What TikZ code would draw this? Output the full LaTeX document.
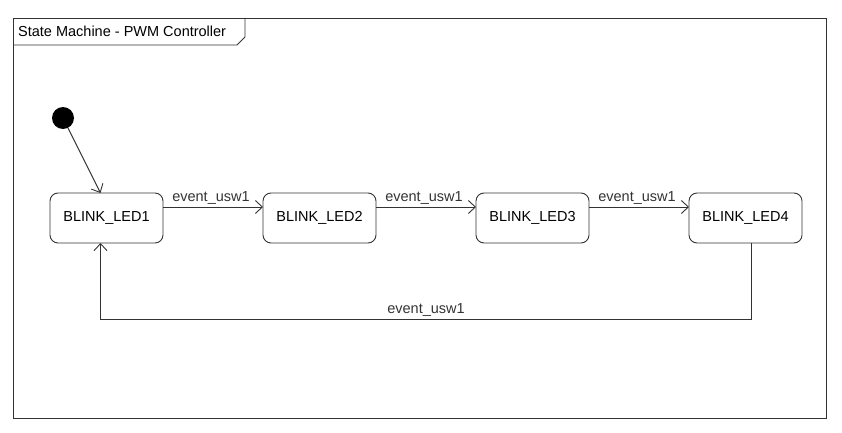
\documentclass[tikz,border=0pt]{standalone}
\usepackage{fontspec}
\setmainfont{Liberation Sans}
\usepackage{xcolor}
\usepackage{tikz}
\usetikzlibrary{arrows.meta, positioning, calc}
\definecolor{linegray}{RGB}{51,51,51}
\tikzset{
    state/.style={rectangle, rounded corners=8pt, minimum width=113pt, minimum height=50pt,
                  text centered, draw=linegray, fill=white, outer sep=0pt, line width=0.9pt,
                  font=\fontsize{14.5}{17}\selectfont},
    init/.style={circle, fill=black, minimum size=22pt, inner sep=0pt},
    lbl/.style={font=\fontsize{14.5}{17}\selectfont, inner sep=2pt},
    arrow/.style={line width=0.9pt, linegray, -{Straight Barb[length=7pt, width=13pt, line width=0.9pt]}}
}

\begin{document}
\begin{tikzpicture}[x=1pt, y=-1pt, node distance=100pt]
    \useasboundingbox (0,0) rectangle (842,433);

    % Frame
    \draw[linegray, line width=0.9pt] (13,18) rectangle (826,418);
    \draw[linegray, line width=0.9pt] (13,45) -- (237,45) -- (245,37) -- (245,18);
    \node[lbl, anchor=west] (title) at (16,31.5) {State Machine - PWM Controller};

    % Initial state
    \node[init] (start) at (63,118) {};

    % States
    \node[state] (s1) at (106.5,218) {BLINK\_LED1};
    \node[state, right=of s1] (s2) {BLINK\_LED2};
    \node[state, right=of s2] (s3) {BLINK\_LED3};
    \node[state, right=of s3] (s4) {BLINK\_LED4};

    % Transitions
    \draw[arrow] (start) -- ([xshift=-6pt]s1.north);
    \draw[arrow] ([yshift=11pt]s1.east) -- ([yshift=11pt]s2.west)
        node[lbl, pos=0.48, above] {event\_usw1};
    \draw[arrow] ([yshift=11pt]s2.east) -- ([yshift=11pt]s3.west)
        node[lbl, pos=0.48, above] {event\_usw1};
    \draw[arrow] ([yshift=11pt]s3.east) -- ([yshift=11pt]s4.west)
        node[lbl, pos=0.48, above] {event\_usw1};
    \draw[arrow] ([xshift=6pt]s4.south) -- ++(0,76) -| ([xshift=-6pt]s1.south)
        node[lbl, pos=0.25, above] {event\_usw1};
\end{tikzpicture}
\end{document}
